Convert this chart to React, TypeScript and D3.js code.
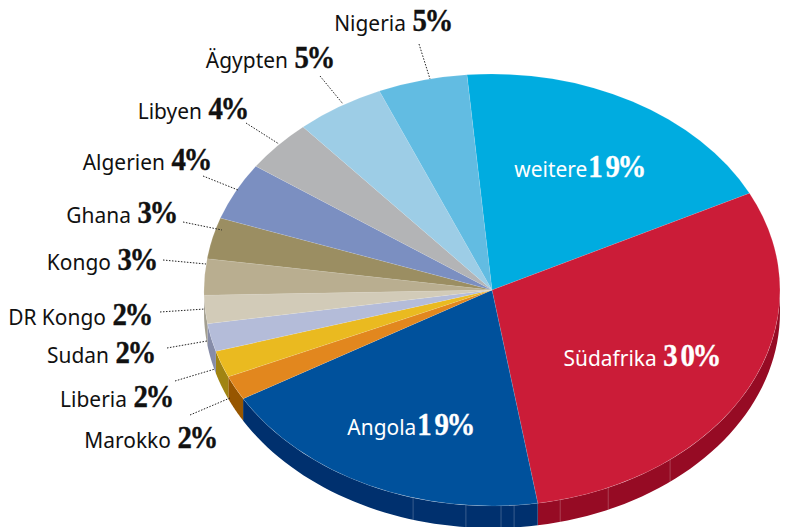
import React from "react";
import * as d3 from "d3";

const names = ["weitere","Südafrika","Angola","Marokko","Liberia","Sudan","DR Kongo","Kongo","Ghana","Algerien","Libyen","Ägypten","Nigeria"];
const sliceValues = [19,29.85,19.15,1.8,2,2.1,2.1,2.7,3.1,4.3,3.9,5,5];
const shownPercent = [19,30,19,2,2,2,2,3,3,4,4,5,5];
const topColors = ["#00ACE0","#CB1C38","#00519C","#E2871E","#EABA20","#B4BCD9","#D2CBB8","#B9AE90","#9B8E62","#7B8FC1","#B3B4B6","#9DCDE6","#62BCE2"];
const wallColors = ["#007FA6","#960B24","#00306E","#975600","#A08412","#868CA8","#A39F90","#8A8268","#736A49","#5B6A8F","#858688","#7498AB","#498BA7"];
const labelX = [644,719,473,216,172,154,151,156,176,210,247,333,451];
const labelY = [177,366,435,448,407,363,325,270,223,170,119,68,31];
const leaderFrom = [null,null,null,[190,415],[175,381],[167,348],[160,312],[163,260],[183,222],[203,176],[246,123],[320,76],[419,44]];
const leaderTo = [null,null,null,[230,398],[215,369],[207,341],[205,309],[206,264],[222,230],[238,190],[279,144],[343,104],[430,79]];
const wallDividerAngles = [141.8,156.2,166.3,175.6,178.2,185.2,195.9];

const W = 787, H = 527, cx = 492, cy = 290, rx = 288, ry = 216, depth = 22;
const sans = "'Noto Sans', sans-serif";
const serif = "'Liberation Serif', serif";
const rad = (d: number) => (d * Math.PI) / 180;
const pt = (a: number, dy = 0): [number, number] => [cx + rx * Math.sin(a), cy - ry * Math.cos(a) + dy];
const squeeze = 0.93;

export default function App() {
  const pie = d3.pie<number>().sort(null).value((d) => d).startAngle(rad(-5)).endAngle(rad(355));
  const slices = pie(sliceValues);
  const arc = d3.arc<d3.PieArcDatum<number>>().innerRadius(0).outerRadius(1);
  const line = d3.line();
  const front = (s: d3.PieArcDatum<number>) => {
    const a0 = Math.max(s.startAngle, rad(90));
    const a1 = Math.min(s.endAngle, rad(270));
    if (a1 <= a0) return null;
    const angles = d3.range(0, 41).map((i) => a0 + ((a1 - a0) * i) / 40);
    const pts = [...angles.map((a) => pt(a)), ...angles.slice().reverse().map((a) => pt(a, depth))];
    return line(pts) + "Z";
  };
  return (
    <svg width={W} height={H} style={{ position: "absolute", left: 0, top: 0, background: "#fff" }}>
      {slices.map((s, i) => {
        const d = front(s);
        return d ? <path key={i} d={d} fill={wallColors[i]} /> : null;
      })}
      {wallDividerAngles.map((a, i) => (
        <line key={i} x1={pt(rad(a))[0]} y1={pt(rad(a))[1]} x2={pt(rad(a), depth)[0]} y2={pt(rad(a), depth)[1]} stroke="#ffffff" strokeOpacity={0.22} strokeWidth={1} />
      ))}
      <g transform={`translate(${cx},${cy}) scale(${rx},${ry})`}>
        {slices.map((s, i) => (
          <path key={i} d={arc(s) as string} fill={topColors[i]} stroke="#ffffff" strokeOpacity={0.12} strokeWidth={0.8} vectorEffect="non-scaling-stroke" />
        ))}
      </g>
      {leaderFrom.map((f, i) => {
        const t = leaderTo[i];
        if (!f || !t) return null;
        return <line key={i} x1={f[0]} y1={f[1]} x2={t[0]} y2={t[1]} stroke="#222" strokeWidth={1} strokeDasharray="1.5 1.5" />;
      })}
      {names.map((n, i) => {
        const fill = i < 3 ? "#fff" : "#111";
        const digits = String(shownPercent[i]);
        const numStyle = { fontFamily: serif, fontWeight: "bold", fontSize: 31, stroke: fill, strokeWidth: 0.4 };
        const gap = i === 0 || i === 2 ? 1 : 7;
        return (
          <text key={n} transform={`translate(${labelX[i]},${labelY[i]}) scale(${squeeze},1)`} textAnchor="end" fill={fill} fontFamily={sans} fontSize={22.5}>
            {n}
            {digits.length > 1 ? (
              <>
                <tspan {...numStyle} letterSpacing={3} dx={gap}>{digits.slice(0, -1)}</tspan>
                <tspan {...numStyle} letterSpacing={-2.5}>{digits.slice(-1)}%</tspan>
              </>
            ) : (
              <tspan {...numStyle} letterSpacing={-2.5} dx={gap}>{digits}%</tspan>
            )}
          </text>
        );
      })}
    </svg>
  );
}
